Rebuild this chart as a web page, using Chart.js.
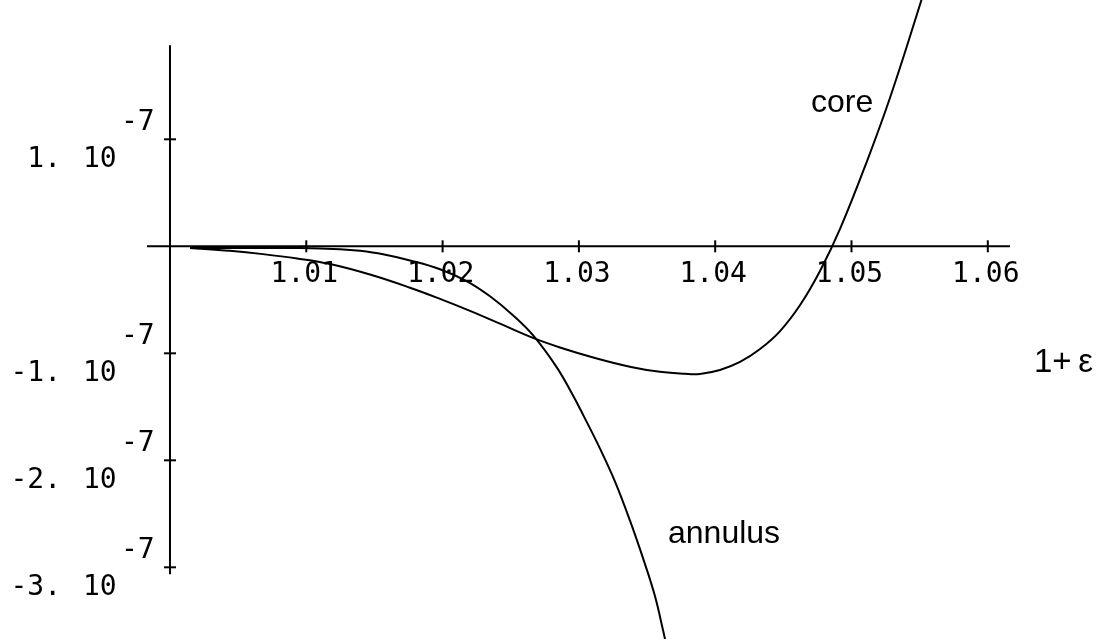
<!DOCTYPE html>
<html>
<head>
<meta charset="utf-8">
<script src="https://cdn.jsdelivr.net/npm/chart.js@4/dist/chart.umd.min.js"></script>
<style>
  html, body { margin: 0; padding: 0; background: #fff; }
  #wrap { width: 1110px; height: 639px; position: relative; }
</style>
</head>
<body>
<div id="wrap"><canvas id="plot"></canvas></div>
<script>
// y values are in units of 1e-7
const coreX = [1.00147, 1.0044, 1.00682, 1.00932, 1.01174, 1.01467, 1.01761, 1.01981, 1.02201, 1.02421,
    1.02663, 1.02861, 1.03118, 1.03382, 1.03595, 1.03778, 1.03888, 1.04035, 1.04182, 1.04329,
    1.04476, 1.04623, 1.04769, 1.04916, 1.05114, 1.05282, 1.05481, 1.05613];
const coreY = [-0.016, -0.042, -0.073, -0.114, -0.166, -0.264, -0.387, -0.491, -0.603, -0.723,
    -0.856, -0.945, -1.043, -1.127, -1.173, -1.192, -1.193, -1.156, -1.081, -0.960,
    -0.792, -0.549, -0.231, 0.162, 0.797, 1.386, 2.171, 2.72];

const annulusX = [1.00147, 1.00587, 1.00954, 1.01247, 1.01394, 1.01563, 1.01761, 1.01981, 1.02179, 1.02348,
    1.02516, 1.02663, 1.02839, 1.02957, 1.0303, 1.03155, 1.03265, 1.03375, 1.03485, 1.03558,
    1.03617, 1.03646];
const annulusY = [-0.016, -0.016, -0.016, -0.027, -0.042, -0.074, -0.132, -0.214, -0.327, -0.467,
    -0.644, -0.831, -1.134, -1.395, -1.573, -1.891, -2.199, -2.564, -2.970, -3.269,
    -3.586, -3.754];

const xTicks = [1.01, 1.02, 1.03, 1.04, 1.05, 1.06];
const xTickLabels = ['1.01', '1.02', '1.03', '1.04', '1.05', '1.06'];
const yTicks = [1, -1, -2, -3];
const yTickLabels = ['1.', '-1.', '-2.', '-3.'];
const yExponent = '-7';

const toPoints = (xs, ys) => xs.map((x, i) => ({ x: x, y: ys[i] }));

// axes and labels, drawn Mathematica style through the origin
const axesPlugin = {
    id: 'axes',
    beforeDatasetsDraw(chart) {
        const ctx = chart.ctx;
        const xs = chart.scales.x;
        const ys = chart.scales.y;
        const x0 = xs.getPixelForValue(1.0);
        const y0 = ys.getPixelForValue(0);

        ctx.save();
        ctx.strokeStyle = '#000';
        ctx.fillStyle = '#000';
        ctx.lineWidth = 2;

        ctx.beginPath();
        ctx.moveTo(xs.getPixelForValue(0.99831), y0);
        ctx.lineTo(xs.getPixelForValue(1.06163), y0);
        ctx.moveTo(x0, ys.getPixelForValue(1.88));
        ctx.lineTo(x0, ys.getPixelForValue(-3.065));
        ctx.stroke();

        ctx.font = '28px "DejaVu Sans Mono"';
        ctx.textBaseline = 'alphabetic';

        xTicks.forEach((v, i) => {
            const px = xs.getPixelForValue(v);
            ctx.beginPath();
            ctx.moveTo(px, y0 - 6);
            ctx.lineTo(px, y0 + 6);
            ctx.stroke();
            ctx.textAlign = 'center';
            ctx.fillText(xTickLabels[i], px - 2, y0 + 36);
        });

        yTicks.forEach((v, i) => {
            const py = ys.getPixelForValue(v);
            ctx.beginPath();
            ctx.moveTo(x0 - 6, py);
            ctx.lineTo(x0 + 6, py);
            ctx.stroke();
            ctx.textAlign = 'right';
            ctx.fillText(yTickLabels[i], 61, py + 28);
            ctx.textAlign = 'left';
            ctx.fillText('10', 83, py + 28);
            ctx.fillText(yExponent, 121, py - 9);
        });

        ctx.font = '32px "Liberation Sans"';
        ctx.textAlign = 'left';
        ctx.fillText('core', 811, 112);
        ctx.fillText('annulus', 668, 543);
        ctx.font = '33px "Liberation Sans"';
        ctx.fillText('1+\u2009\u03b5', 1034, 372);
        ctx.restore();
    }
};

const lineStyle = {
    borderColor: '#000',
    borderWidth: 2,
    pointRadius: 0,
    fill: false,
    tension: 0.4
};

new Chart(document.getElementById('plot'), {
    type: 'line',
    data: {
        datasets: [
            Object.assign({ label: 'core', data: toPoints(coreX, coreY) }, lineStyle),
            Object.assign({ label: 'annulus', data: toPoints(annulusX, annulusY) }, lineStyle)
        ]
    },
    options: {
        responsive: true,
        maintainAspectRatio: false,
        animation: false,
        layout: { padding: 0 },
        plugins: {
            legend: { display: false },
            tooltip: { enabled: false }
        },
        scales: {
            x: { type: 'linear', min: 0.987528, max: 1.068966, display: false },
            y: { type: 'linear', min: -3.670, max: 2.302, display: false }
        }
    },
    plugins: [axesPlugin]
});
</script>
</body>
</html>
